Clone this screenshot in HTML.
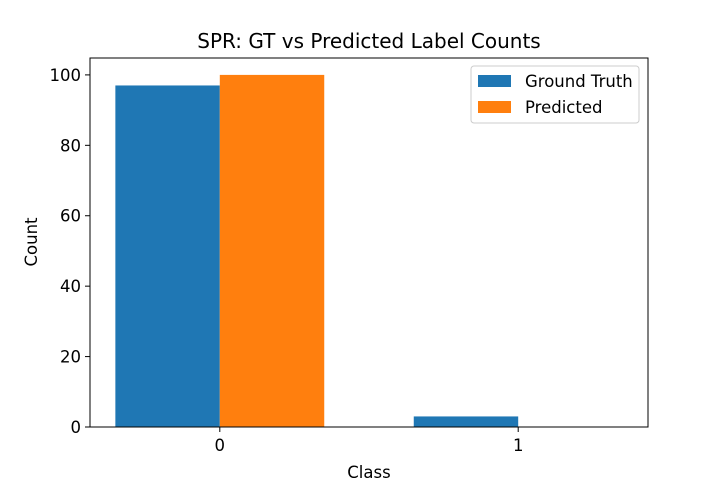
<!DOCTYPE html>
<html><head><meta charset="utf-8"><style>
body{margin:0;background:#fff}
svg text{font-family:"DejaVu Sans","Liberation Sans",sans-serif;fill:#000}
</style></head><body>
<svg id="chart" width="720" height="480" xmlns="http://www.w3.org/2000/svg">
<rect width="720" height="480" fill="#fff"/>
<g id="plot"></g>
<text x="369" y="48" font-size="20" text-anchor="middle">SPR: GT vs Predicted Label Counts</text>
<text x="369" y="478" font-size="16.5" text-anchor="middle">Class</text>
<text transform="translate(37,242) rotate(-90)" font-size="16.5" text-anchor="middle">Count</text>
<g>
<rect x="471" y="66" width="168" height="57" rx="3" fill="#fff" stroke="#ccc"/>
<rect x="478" y="75" width="33" height="12" fill="#1f77b4"/>
<text x="525" y="87" font-size="16.5">Ground Truth</text>
<rect x="478" y="101" width="33" height="12" fill="#ff7f0e"/>
<text x="525" y="113" font-size="16.5">Predicted</text>
</g>
</svg>
<script>
const categories=["0","1"];
const groundTruth=[97,3];
const predicted=[100,0];
const yTicks=[0,20,40,60,80,100];
const L=90,R=648,T=58,B=427,xmin=-0.435,xmax=1.435,ymax=104.8;
const xs=v=>L+(v-xmin)/(xmax-xmin)*(R-L);
const ys=v=>B-v/ymax*(B-T);
const g=document.getElementById('plot');
const NS='http://www.w3.org/2000/svg';
function mk(t,a){const e=document.createElementNS(NS,t);for(const k in a)e.setAttribute(k,a[k]);g.appendChild(e);return e;}
const w=0.35;
categories.forEach((c,i)=>{
 [[groundTruth,'#1f77b4',-w/2,'gt'],[predicted,'#ff7f0e',w/2,'pred']].forEach(([arr,col,off,n])=>{
  const x0=xs(i+off-w/2),x1=xs(i+off+w/2);
  const r=mk('rect',{x:x0,y:ys(arr[i]),width:x1-x0,height:B-ys(arr[i]),fill:col});
  
  
 });
 mk('line',{x1:xs(i),x2:xs(i),y1:B,y2:B+5,stroke:'#000'});
 const t=mk('text',{x:xs(i),y:B+24,'font-size':16.5,'text-anchor':'middle'});t.textContent=c;
 
 
});
yTicks.forEach(v=>{
 mk('line',{x1:L-5,x2:L,y1:ys(v),y2:ys(v),stroke:'#000'});
 const t=mk('text',{x:L-9,y:ys(v)+6,'font-size':16.5,'text-anchor':'end'});t.textContent=v;
 
 
});
const f=mk('rect',{x:L,y:T,width:R-L,height:B-T,fill:'none',stroke:'#000'});


</script>
</body></html>
